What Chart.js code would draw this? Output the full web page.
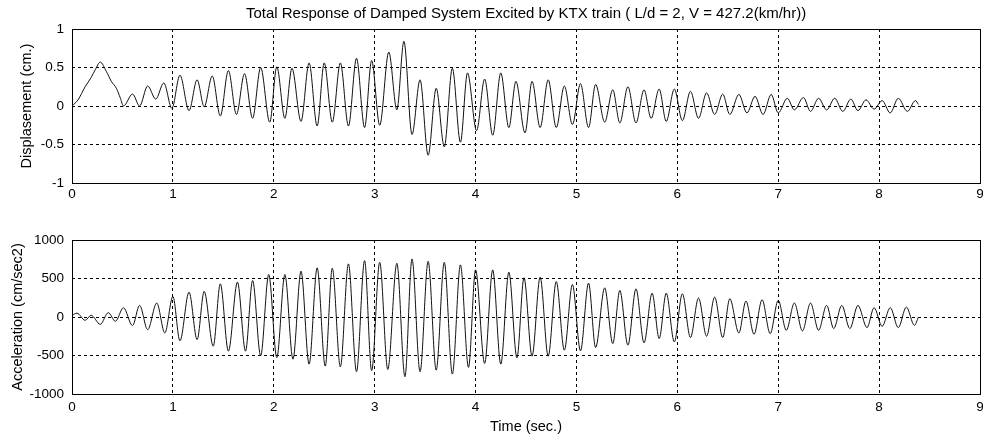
<!DOCTYPE html>
<html>
<head>
<meta charset="utf-8">
<title>KTX train response</title>
<script src="https://cdn.jsdelivr.net/npm/chart.js"></script>
<style>
    html, body { margin: 0; padding: 0; background: #fff; }
    body { width: 983px; height: 438px; position: relative; overflow: hidden; }
    .panel { position: absolute; left: 0; width: 983px; }
    #topPanel { top: 0; height: 220px; }
    #botPanel { top: 220px; height: 218px; }
</style>
</head>
<body>
<div class="panel" id="topPanel"><canvas id="dispChart" width="983" height="220"></canvas></div>
<div class="panel" id="botPanel"><canvas id="accChart" width="983" height="218"></canvas></div>
<script>
const titleText = 'Total Response of Damped System Excited by KTX train ( L/d = 2, V = 427.2(km/hr))';
const xTicks = [0, 1, 2, 3, 4, 5, 6, 7, 8, 9];
const dispTicks = [-1, -0.5, 0, 0.5, 1];
const accTicks = [-1000, -500, 0, 500, 1000];

// displacement turning points (sec, cm)
const dispTime = [
    0, 0.06, 0.13, 0.19, 0.23, 0.28, 0.34, 0.39, 0.44, 0.48, 0.51,
    0.60, 0.67, 0.75, 0.83, 0.91, 0.99, 1.07, 1.16, 1.24, 1.31,
    1.39, 1.47, 1.55, 1.63, 1.71, 1.79, 1.87, 1.96, 2.03, 2.11,
    2.18, 2.27, 2.35, 2.43, 2.50, 2.58, 2.66, 2.74, 2.82, 2.90,
    2.97, 3.05, 3.14, 3.22, 3.29, 3.37, 3.45, 3.53, 3.61, 3.69,
    3.77, 3.85, 3.92, 4.01, 4.09, 4.17, 4.25, 4.33, 4.40, 4.49,
    4.56, 4.64, 4.72, 4.80, 4.88, 4.96, 5.04, 5.12, 5.19, 5.28,
    5.36, 5.43, 5.51, 5.59, 5.67, 5.74, 5.82, 5.89, 5.97, 6.05,
    6.13, 6.21, 6.29, 6.37, 6.45, 6.52, 6.61, 6.69, 6.77, 6.85,
    6.93, 7.00, 7.09, 7.16, 7.25, 7.32, 7.40, 7.48, 7.56, 7.64,
    7.72, 7.79, 7.87, 7.95, 8.03, 8.11, 8.19, 8.28, 8.36, 8.39
];
const dispValue = [
    0, 0.08, 0.25, 0.37, 0.47, 0.57, 0.45, 0.32, 0.23, 0.10, 0.0,
    0.155, 0.0, 0.26, 0.09, 0.30, -0.03, 0.40, -0.06, 0.34, -0.01,
    0.39, -0.13, 0.46, -0.11, 0.42, -0.16, 0.50, -0.21, 0.51, -0.16,
    0.49, -0.20, 0.56, -0.26, 0.56, -0.21, 0.56, -0.26, 0.62, -0.28,
    0.59, -0.25, 0.70, -0.05, 0.84, -0.37, 0.34, -0.64, 0.23, -0.53,
    0.49, -0.47, 0.43, -0.32, 0.35, -0.38, 0.43, -0.28, 0.32, -0.35,
    0.32, -0.28, 0.34, -0.28, 0.26, -0.24, 0.29, -0.28, 0.28, -0.21,
    0.21, -0.22, 0.25, -0.22, 0.21, -0.16, 0.22, -0.20, 0.22, -0.19,
    0.19, -0.16, 0.17, -0.11, 0.155, -0.11, 0.15, -0.09, 0.125, -0.11,
    0.15, -0.09, 0.10, -0.05, 0.11, -0.07, 0.10, -0.05, 0.10, -0.07,
    0.09, -0.06, 0.08, -0.04, 0.07, -0.09, 0.10, -0.07, 0.07, 0.02
];

// acceleration turning points (sec, cm/sec2)
const accTime = [
    0, 0.05, 0.13, 0.19, 0.28, 0.36, 0.43, 0.51, 0.60, 0.67,
    0.75, 0.84, 0.92, 1.00, 1.07, 1.16, 1.24, 1.31, 1.40, 1.47,
    1.55, 1.64, 1.72, 1.79, 1.87, 1.95, 2.03, 2.11, 2.19, 2.27,
    2.35, 2.43, 2.51, 2.58, 2.66, 2.74, 2.82, 2.90, 2.97, 3.05,
    3.13, 3.22, 3.30, 3.37, 3.45, 3.53, 3.61, 3.69, 3.77, 3.85,
    3.93, 4.00, 4.09, 4.17, 4.25, 4.33, 4.41, 4.48, 4.56, 4.64,
    4.72, 4.80, 4.88, 4.96, 5.04, 5.12, 5.19, 5.28, 5.36, 5.43,
    5.51, 5.59, 5.67, 5.75, 5.82, 5.89, 5.97, 6.05, 6.13, 6.21,
    6.29, 6.37, 6.45, 6.52, 6.61, 6.68, 6.76, 6.84, 6.92, 7.00,
    7.08, 7.16, 7.24, 7.32, 7.40, 7.48, 7.55, 7.63, 7.71, 7.79,
    7.88, 7.95, 8.03, 8.11, 8.19, 8.27, 8.35, 8.39
];
const accValue = [
    20, 50, -43, 22, -95, 56, -56, 120, -112, 151,
    -164, 181, -207, 267, -310, 323, -293, 332, -379, 431,
    -444, 453, -444, 474, -504, 552, -526, 552, -548, 595,
    -612, 638, -638, 634, -647, 690, -711, 733, -698, 711,
    -681, 698, -776, 754, -711, 724, -690, 711, -741, 677,
    -655, 612, -603, 612, -612, 582, -530, 509, -509, 517,
    -509, 461, -431, 422, -440, 440, -397, 379, -345, 345,
    -366, 366, -336, 310, -280, 310, -323, 302, -267, 246,
    -250, 259, -267, 237, -207, 207, -224, 224, -216, 216,
    -172, 181, -181, 181, -172, 151, -151, 151, -151, 151,
    -138, 121, -121, 121, -138, 129, -108, 0
];

Chart.defaults.font.family = '"Liberation Sans", Arial, sans-serif';
Chart.defaults.font.size = 13.5;
Chart.defaults.color = '#000';

// full box round the plot area, like matlab axes
const frame = {
    id: 'frame',
    afterDraw(c) {
        const { ctx, chartArea: a } = c;
        ctx.save();
        ctx.setLineDash([]);
        ctx.strokeStyle = '#000';
        ctx.lineWidth = 1;
        ctx.strokeRect(Math.round(a.left) + 0.5, Math.round(a.top) + 0.5,
            Math.round(a.right - a.left), Math.round(a.bottom - a.top));
        ctx.restore();
    }
};

function makeChart(id, times, values, yTicks, yLabel, opts) {
    const pts = times.map((t, i) => ({ x: t, y: values[i] }));
    const grid = { color: '#000', lineWidth: 1, drawTicks: false };
    return new Chart(document.getElementById(id), {
        type: 'line',
        data: {
            datasets: [{
                data: pts,
                borderColor: '#111',
                borderWidth: 1,
                pointRadius: 0,
                cubicInterpolationMode: 'monotone'
            }]
        },
        options: {
            responsive: false,
            animation: false,
            layout: { padding: { left: 0, right: 3, top: opts.padTop, bottom: 0 } },
            plugins: {
                legend: { display: false },
                tooltip: { enabled: false },
                title: {
                    display: !!opts.title,
                    text: opts.title,
                    fullSize: false,
                    font: { size: 15, weight: 'normal' },
                    padding: { top: 5, bottom: 6 }
                }
            },
            scales: {
                x: {
                    type: 'linear',
                    min: xTicks[0],
                    max: xTicks[xTicks.length - 1],
                    grid: grid,
                    border: { display: false, dash: [3, 3] },
                    afterBuildTicks: s => { s.ticks = xTicks.map(v => ({ value: v })); },
                    afterFit: s => { s.height = opts.xHeight; s.paddingLeft = 0; s.paddingRight = 0; },
                    ticks: { padding: opts.xPad, maxRotation: 0, callback: v => String(v) },
                    title: {
                        display: !!opts.xTitle,
                        text: opts.xTitle,
                        font: { size: 14.5 },
                        padding: { top: 0, bottom: 2.5 }
                    }
                },
                y: {
                    min: yTicks[0],
                    max: yTicks[yTicks.length - 1],
                    grid: grid,
                    border: { display: false, dash: [3, 3] },
                    afterBuildTicks: s => { s.ticks = yTicks.map(v => ({ value: v })); },
                    afterFit: s => { s.width = 72; s.paddingTop = 0; s.paddingBottom = 0; },
                    ticks: { padding: 8, callback: v => String(v) },
                    title: {
                        display: true,
                        text: yLabel,
                        font: { size: 14.5 },
                        padding: { top: opts.yTitlePad, bottom: 0 }
                    }
                }
            }
        },
        plugins: [frame]
    });
}

makeChart('dispChart', dispTime, dispValue, dispTicks, 'Displasement (cm.)',
    { title: titleText, padTop: 0, xHeight: 37, xPad: 3, yTitlePad: 18.5 });
makeChart('accChart', accTime, accValue, accTicks, 'Acceleration (cm/sec2)',
    { padTop: 20, xHeight: 44, xPad: 5.4, xTitle: 'Time (sec.)', yTitlePad: 9.6 });
</script>
</body>
</html>
